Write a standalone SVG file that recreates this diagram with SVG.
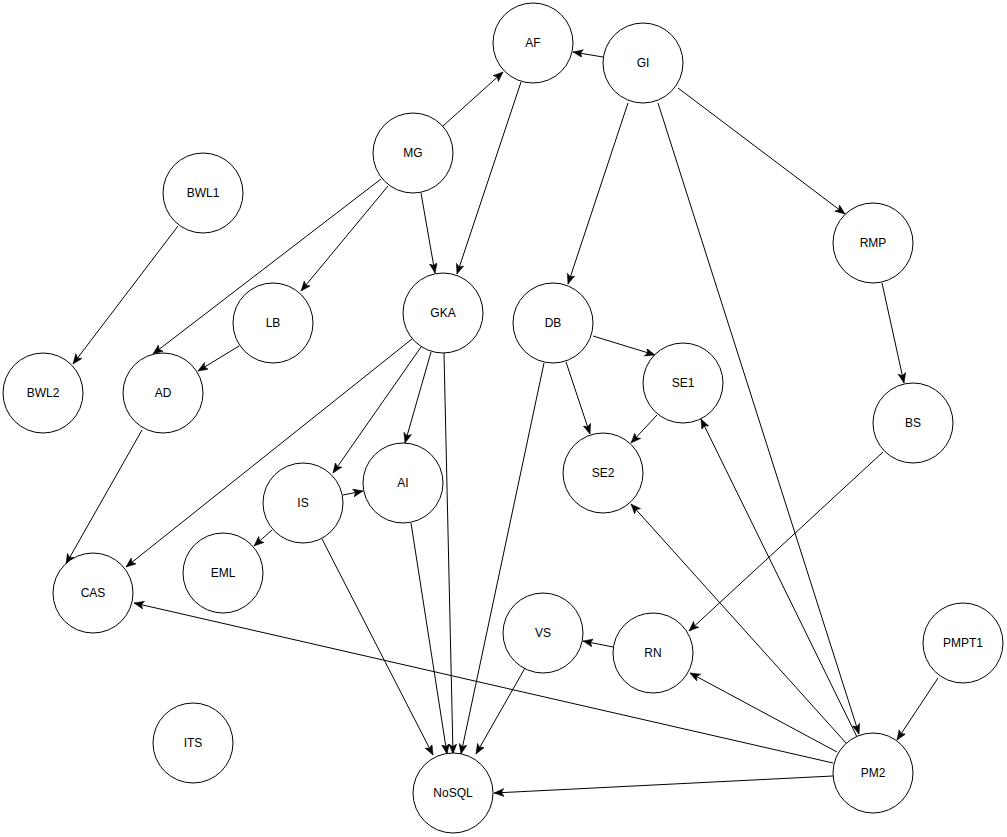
<svg xmlns="http://www.w3.org/2000/svg" width="1007" height="837" viewBox="0 0 1007 837">
<style>
.n circle{fill:#fff;stroke:#000;stroke-width:1}
.n text{font-family:"Liberation Sans",Arial,sans-serif;font-size:12px;fill:#000;text-anchor:middle;dominant-baseline:central}
.e line{stroke:#000;stroke-width:1;fill:none;marker-end:url(#arr)}
</style>
<defs>
<marker id="arr" markerUnits="userSpaceOnUse" markerWidth="12" markerHeight="10" refX="10" refY="4" orient="auto">
<path d="M0,0 L10,4 L0,8 L2.5,4 Z" fill="#000" stroke="#000" stroke-width="0.5"/>
</marker>
</defs>
<rect width="1007" height="837" fill="#fff"/>
<g id="connectors" class="e">
<line x1="603" y1="57" x2="573" y2="52"/>
<line x1="443" y1="126" x2="503" y2="72"/>
<line x1="521" y1="82" x2="457" y2="274"/>
<line x1="421" y1="193" x2="435" y2="273"/>
<line x1="388" y1="186" x2="301" y2="291"/>
<line x1="381" y1="179" x2="153" y2="354"/>
<line x1="178" y1="226" x2="73" y2="364"/>
<line x1="239" y1="346" x2="198" y2="371"/>
<line x1="628" y1="103" x2="568" y2="284"/>
<line x1="678" y1="88" x2="845" y2="214"/>
<line x1="658" y1="103" x2="859" y2="734"/>
<line x1="882" y1="283" x2="904" y2="383"/>
<line x1="883" y1="452" x2="689" y2="631"/>
<line x1="412" y1="339" x2="126" y2="567"/>
<line x1="421" y1="347" x2="333" y2="473"/>
<line x1="431" y1="352" x2="405" y2="443"/>
<line x1="444" y1="353" x2="453" y2="754"/>
<line x1="593" y1="336" x2="655" y2="355"/>
<line x1="566" y1="362" x2="590" y2="434"/>
<line x1="544" y1="363" x2="461" y2="754"/>
<line x1="657" y1="415" x2="631" y2="443"/>
<line x1="142" y1="430" x2="66" y2="564"/>
<line x1="343" y1="495" x2="363" y2="491"/>
<line x1="272" y1="530" x2="254" y2="546"/>
<line x1="322" y1="539" x2="433" y2="755"/>
<line x1="411" y1="523" x2="447" y2="754"/>
<line x1="613" y1="647" x2="583" y2="641"/>
<line x1="525" y1="668" x2="476" y2="754"/>
<line x1="938" y1="678" x2="897" y2="740"/>
<line x1="837" y1="752" x2="690" y2="673"/>
<line x1="857" y1="737" x2="701" y2="419"/>
<line x1="846" y1="743" x2="631" y2="504"/>
<line x1="833" y1="763" x2="134" y2="603"/>
<line x1="833" y1="776" x2="494" y2="793"/>
</g>
<g id="AF" class="n"><circle cx="533" cy="43" r="40"/><text x="533" y="43">AF</text></g>
<g id="GI" class="n"><circle cx="643" cy="63" r="40"/><text x="643" y="63">GI</text></g>
<g id="MG" class="n"><circle cx="413" cy="153" r="40"/><text x="413" y="153">MG</text></g>
<g id="BWL1" class="n"><circle cx="203" cy="193" r="40"/><text x="203" y="193">BWL1</text></g>
<g id="RMP" class="n"><circle cx="873" cy="243" r="40"/><text x="873" y="243">RMP</text></g>
<g id="LB" class="n"><circle cx="273" cy="323" r="40"/><text x="273" y="323">LB</text></g>
<g id="GKA" class="n"><circle cx="443" cy="313" r="40"/><text x="443" y="313">GKA</text></g>
<g id="DB" class="n"><circle cx="553" cy="323" r="40"/><text x="553" y="323">DB</text></g>
<g id="BWL2" class="n"><circle cx="43" cy="393" r="40"/><text x="43" y="393">BWL2</text></g>
<g id="AD" class="n"><circle cx="163" cy="393" r="40"/><text x="163" y="393">AD</text></g>
<g id="SE1" class="n"><circle cx="683" cy="383" r="40"/><text x="683" y="383">SE1</text></g>
<g id="BS" class="n"><circle cx="913" cy="423" r="40"/><text x="913" y="423">BS</text></g>
<g id="SE2" class="n"><circle cx="603" cy="473" r="40"/><text x="603" y="473">SE2</text></g>
<g id="IS" class="n"><circle cx="303" cy="503" r="40"/><text x="303" y="503">IS</text></g>
<g id="AI" class="n"><circle cx="403" cy="483" r="40"/><text x="403" y="483">AI</text></g>
<g id="EML" class="n"><circle cx="223" cy="573" r="40"/><text x="223" y="573">EML</text></g>
<g id="CAS" class="n"><circle cx="93" cy="593" r="40"/><text x="93" y="593">CAS</text></g>
<g id="VS" class="n"><circle cx="543" cy="633" r="40"/><text x="543" y="633">VS</text></g>
<g id="RN" class="n"><circle cx="653" cy="653" r="40"/><text x="653" y="653">RN</text></g>
<g id="PMPT1" class="n"><circle cx="963" cy="643" r="40"/><text x="963" y="643">PMPT1</text></g>
<g id="ITS" class="n"><circle cx="193" cy="743" r="40"/><text x="193" y="743">ITS</text></g>
<g id="PM2" class="n"><circle cx="873" cy="773" r="40"/><text x="873" y="773">PM2</text></g>
<g id="NoSQL" class="n"><circle cx="453" cy="793" r="40"/><text x="453" y="793">NoSQL</text></g>
</svg>
